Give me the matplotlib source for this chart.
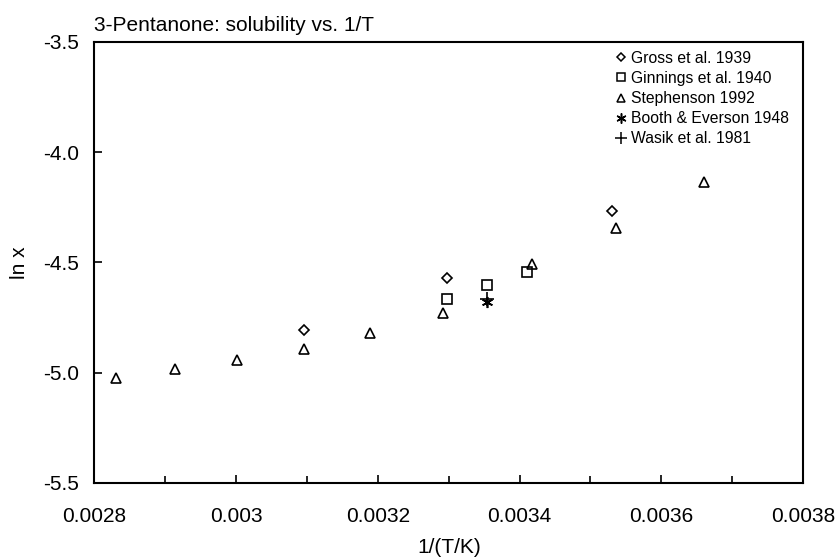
import matplotlib
matplotlib.use('Agg')
import matplotlib.pyplot as plt
import matplotlib.ticker as ticker

plt.rcParams['font.family'] = ['Liberation Sans', 'DejaVu Sans']

# ── data ───────────────────────────────────────────────────────────────────
gross_x = [0.003095, 0.003298, 0.003531]
gross_y = [-4.808, -4.569, -4.266]

ginnings_x = [0.003298, 0.003354, 0.003411]
ginnings_y = [-4.666, -4.602, -4.545]

stephenson_x = [0.002830, 0.002913, 0.003001, 0.003095, 0.003189,
                0.003292, 0.003418, 0.003536, 0.003660]
stephenson_y = [-5.025, -4.983, -4.944, -4.891, -4.821,
                -4.728, -4.507, -4.342, -4.136]

booth_x = [0.003354]
booth_y = [-4.678]

wasik_x = [0.003354]
wasik_y = [-4.667]

# ── figure ─────────────────────────────────────────────────────────────────
fig = plt.figure(figsize=(8.37, 5.59), dpi=100)
ax = fig.add_axes([0.1129, 0.136, 0.8465, 0.789])

mk = dict(ls='none', color='k', mfc='none', mew=1.2)
ax.plot(gross_x, gross_y, marker='D', ms=4.8, label='Gross et al. 1939', **mk)
ax.plot(ginnings_x, ginnings_y, marker='s', ms=6.5, label='Ginnings et al. 1940', **mk)
ax.plot(stephenson_x, stephenson_y, marker='^', ms=6.5, label='Stephenson 1992', **mk)
ax.plot(booth_x, booth_y, marker=(6, 2, 0), ms=8, label='Booth & Everson 1948', **mk)
ax.plot(wasik_x, wasik_y, marker='+', ms=10, label='Wasik et al. 1981', **mk)

ax.set_xlim(0.0028, 0.0038)
ax.set_ylim(-5.5, -3.5)
ax.xaxis.set_major_locator(ticker.MultipleLocator(0.0002))
ax.xaxis.set_minor_locator(ticker.MultipleLocator(0.0001))
ax.yaxis.set_major_locator(ticker.MultipleLocator(0.5))
ax.xaxis.set_major_formatter(ticker.FuncFormatter(lambda v, p: f'{v:.4f}'.rstrip('0')))
ax.yaxis.set_major_formatter(ticker.FormatStrFormatter('%.1f'))
ax.tick_params(which='both', direction='in', width=1.2, labelsize=15)
ax.tick_params(which='major', length=6)
ax.tick_params(which='minor', length=5)
ax.tick_params(axis='x', pad=17)
ax.tick_params(axis='y', pad=11)
for s in ax.spines.values():
    s.set_linewidth(1.5)

ax.set_xlabel('1/(T/K)', fontsize=15, labelpad=9)
ax.set_ylabel('ln x', fontsize=15, labelpad=10)
ax.set_title('3-Pentanone: solubility vs. 1/T', fontsize=15, loc='left', pad=8)

leg = ax.legend(loc='upper left', frameon=False, fontsize=11.3, handlelength=0.6,
                handletextpad=0.35, labelspacing=0.33, borderpad=0,
                borderaxespad=0, bbox_to_anchor=(0.7365, 0.98))
for h in leg.legend_handles:
    h.set_markersize(h.get_markersize() * 0.9)
    h.set_markeredgewidth(1.1)

fig.savefig('out.png', dpi=100)
